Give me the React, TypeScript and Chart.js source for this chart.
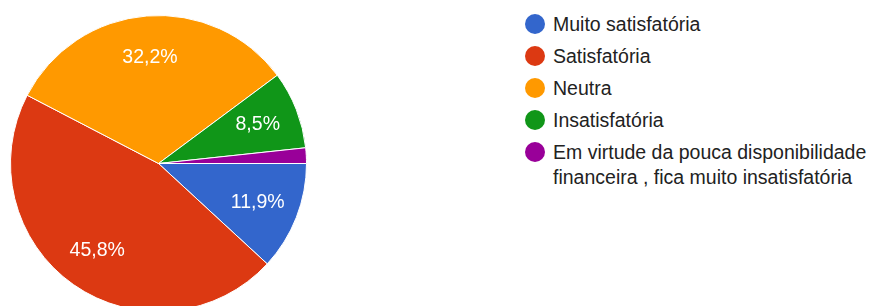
import React, { useEffect, useRef } from "react";
import { Chart, registerables } from "chart.js";

Chart.register(...registerables);

const categories = [
  "Muito satisfatória",
  "Satisfatória",
  "Neutra",
  "Insatisfatória",
  "Em virtude da pouca disponibilidade financeira , fica muito insatisfatória",
];
const responses = [7, 27, 19, 5, 1];
const colors = ["#3366cc", "#dc3912", "#ff9900", "#109618", "#990099"];

const RADIUS = 148;
const CX = 158;
const CY = 163;
const FONT = '"Liberation Sans", Arial, sans-serif';

const percentLabels = {
  id: "percentLabels",
  afterDatasetsDraw(chart: any) {
    const ctx = chart.ctx;
    const meta = chart.getDatasetMeta(0);
    const data = chart.data.datasets[0].data as number[];
    const total = data.reduce((a: number, b: number) => a + b, 0);
    ctx.save();
    ctx.fillStyle = "#ffffff";
    ctx.font = "19.5px " + FONT;
    ctx.textAlign = "center";
    ctx.textBaseline = "middle";
    meta.data.forEach((arc: any, i: number) => {
      const pct = (data[i] / total) * 100;
      if (pct < 5) return;
      const p = arc.getProps(["x", "y", "startAngle", "endAngle", "outerRadius"], true);
      const mid = (p.startAngle + p.endAngle) / 2;
      const r = p.outerRadius * 0.72;
      const x = p.x + Math.cos(mid) * r;
      const y = p.y + Math.sin(mid) * r;
      ctx.fillText(pct.toFixed(1).replace(".", ",") + "%", x, y);
    });
    ctx.restore();
  },
};

export default function App() {
  const canvasRef = useRef<HTMLCanvasElement | null>(null);

  useEffect(() => {
    document.body.style.margin = "0";
    const canvas = canvasRef.current;
    if (!canvas) return;
    const chart = new Chart(canvas, {
      type: "pie",
      data: {
        labels: categories,
        datasets: [
          {
            data: responses,
            backgroundColor: colors,
            borderColor: "#ffffff",
            borderWidth: 1,
          },
        ],
      },
      options: {
        responsive: false,
        animation: false,
        rotation: 90,
        layout: { padding: 0 },
        plugins: {
          legend: { display: false },
          tooltip: { enabled: false },
        },
      },
      plugins: [percentLabels],
    });
    return () => chart.destroy();
  }, []);

  const size = RADIUS * 2 + 1;

  return (
    <div
      style={{
        position: "relative",
        width: 873,
        height: 306,
        overflow: "hidden",
        background: "#ffffff",
        fontFamily: FONT,
      }}
    >
      <canvas
        ref={canvasRef}
        width={size}
        height={size}
        style={{
          position: "absolute",
          left: CX - size / 2,
          top: CY - size / 2,
          width: size,
          height: size,
        }}
      />
      <div
        style={{
          position: "absolute",
          left: 525,
          top: 11.5,
          width: 348,
          display: "flex",
          flexDirection: "column",
          gap: 7,
        }}
      >
        {categories.map((c, i) => (
          <div key={i} style={{ display: "flex", alignItems: "flex-start" }}>
            <div
              style={{
                width: 20,
                height: 20,
                borderRadius: "50%",
                background: colors[i],
                marginTop: 2.5,
                flex: "0 0 auto",
              }}
            />
            <div
              style={{
                marginLeft: 8,
                width: 320,
                fontSize: 19.5,
                lineHeight: "25px",
                color: "#222222",
              }}
            >
              {c}
            </div>
          </div>
        ))}
      </div>
    </div>
  );
}
